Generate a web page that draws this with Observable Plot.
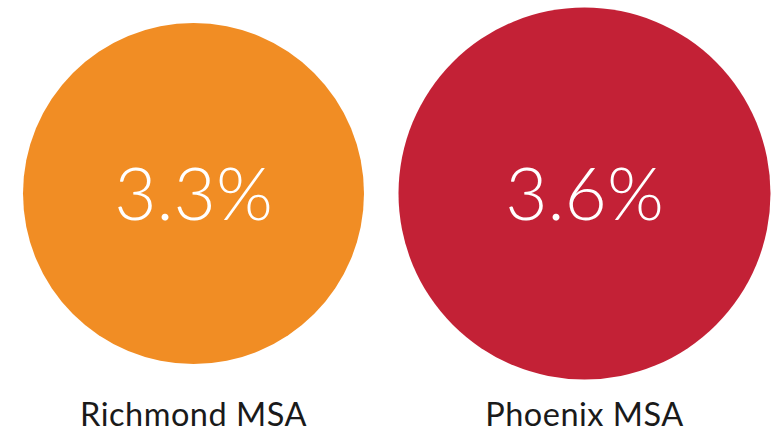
<!DOCTYPE html>
<html>
<head>
<meta charset="utf-8">
<script src="https://cdn.jsdelivr.net/npm/d3@7"></script>
<script src="https://cdn.jsdelivr.net/npm/@observablehq/plot@0.6"></script>
<style>
  html, body { margin: 0; padding: 0; background: #fff; }
  .region-label text { letter-spacing: 0.5px; }
</style>
</head>
<body>
<div id="chart"></div>
<script>
const regions = ["Richmond MSA", "Phoenix MSA"];
const rates = [3.3, 3.6];
const rateLabels = ["3.3%", "3.6%"];
const colors = ["#F18D24", "#C32136"];

const data = regions.map((r, i) => ({region: r, rate: rates[i], label: rateLabels[i], color: colors[i]}));

const chart = Plot.plot({
  width: 771,
  height: 432,
  marginTop: 0,
  marginBottom: 46,
  marginLeft: 0,
  marginRight: 0,
  x: {type: "point", domain: regions, range: [193, 584], padding: 0, align: 0.5, axis: null},
  r: {type: "linear", domain: [0, 3.6], range: [0, 186]},
  marks: [
    Plot.dot(data, {x: "region", r: "rate", fill: "color", stroke: null, frameAnchor: "middle"}),
    Plot.text(data, {x: "region", text: "label", frameAnchor: "middle", fill: "#fff", fontSize: 73, fontWeight: 300, fontFamily: "Lato, 'Open Sans', sans-serif", dy: 3}),
    Plot.text(data, {x: "region", text: "region", frameAnchor: "bottom", lineAnchor: "bottom", dy: 39, fill: "#1a1a1a", fontSize: 32.5, fontFamily: "Lato, 'Open Sans', sans-serif", className: "region-label"})
  ]
});
document.getElementById("chart").appendChild(chart);
</script>
</body>
</html>
